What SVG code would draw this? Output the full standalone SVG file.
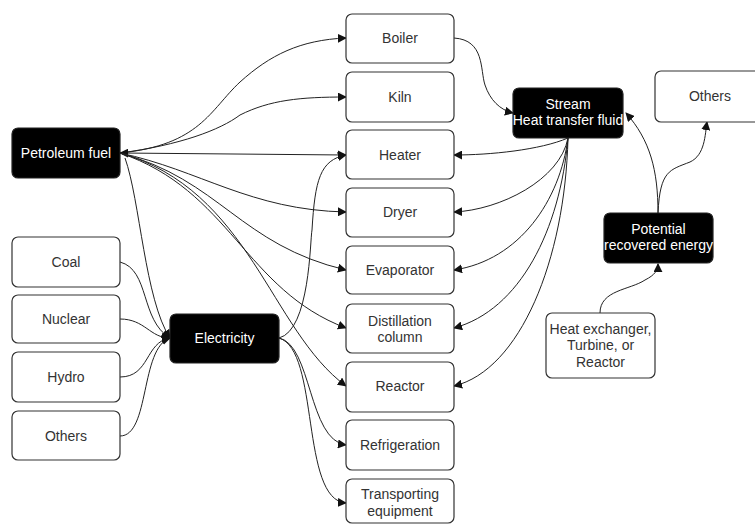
<svg xmlns="http://www.w3.org/2000/svg" width="755" height="524" viewBox="0 0 755 524">
<defs>
<marker id="ah" viewBox="0 0 10 10" refX="9" refY="5" markerWidth="9" markerHeight="9" markerUnits="userSpaceOnUse" orient="auto-start-reverse">
<path d="M0,0 L10,5 L0,10 z" fill="#111"/>
</marker>
<style>
.w rect{fill:#fff;stroke:#333;stroke-width:1.2}
.b rect{fill:#000;stroke:#222;stroke-width:1.2}
text{font-family:"Liberation Sans",Arial,sans-serif;font-size:14px;text-anchor:middle}
.w text{fill:#333}
.b text{fill:#fff}
#edges path{fill:none;stroke:#222;stroke-width:1;marker-end:url(#ah)}
</style>
</defs>
<rect width="755" height="524" fill="#fff"/>
<g id="edges">
<path d="M120,153 C200,145 210,110 240,82 C270,55 300,40 346,38"/>
<path d="M120,153 C180,145 220,130 240,115 C270,100 300,97 346,97"/>
<path d="M120,153 L346,155" style="marker-start:url(#ah)"/>
<path d="M120,153 C200,170 250,210 346,212"/>
<path d="M120,153 C220,180 240,245 346,270"/>
<path d="M120,153 C230,190 245,290 346,328"/>
<path d="M120,153 C250,190 270,330 346,386"/>
<path d="M125,158 C140,200 145,300 170,338"/>
<path d="M279,338 C310,330 310,240 312,230 C315,180 320,160 346,155"/>
<path d="M279,338 C312,345 308,440 346,445"/>
<path d="M279,338 C320,350 300,500 346,503"/>
<path d="M120,262 C150,270 140,320 170,338"/>
<path d="M120,319 C145,319 150,338 170,338"/>
<path d="M120,377 C150,377 145,342 170,338"/>
<path d="M120,436 C150,436 140,348 170,338"/>
<path d="M454,38 C485,40 480,70 485,85 C490,100 500,110 513,113"/>
<path d="M568,138 C540,150 490,155 454,155"/>
<path d="M568,138 C560,180 500,210 454,212"/>
<path d="M568,138 C560,200 520,260 454,270"/>
<path d="M568,138 C560,230 520,310 454,328"/>
<path d="M568,138 C565,260 520,370 454,386"/>
<path d="M658,213 C658,170 650,140 626,113"/>
<path d="M658,213 C660,170 670,170 690,162 C705,155 705,135 707,122"/>
<path d="M600,313 C600,290 630,290 645,280 C655,275 658,270 658,264"/>
</g>
<g id="petroleum" class="b"><rect x="12" y="128" width="108" height="50" rx="6"/><text x="66" y="158">Petroleum fuel</text></g>
<g id="electricity" class="b"><rect x="170" y="314" width="109" height="49" rx="6"/><text x="224.5" y="343">Electricity</text></g>
<g id="coal" class="w"><rect x="12" y="237" width="108" height="50" rx="6"/><text x="66" y="267">Coal</text></g>
<g id="nuclear" class="w"><rect x="12" y="295" width="108" height="48" rx="6"/><text x="66" y="324">Nuclear</text></g>
<g id="hydro" class="w"><rect x="12" y="352" width="108" height="50" rx="6"/><text x="66" y="382">Hydro</text></g>
<g id="others-left" class="w"><rect x="12" y="411" width="108" height="49" rx="6"/><text x="66" y="441">Others</text></g>
<g id="boiler" class="w"><rect x="346" y="14" width="108" height="49" rx="6"/><text x="400" y="43">Boiler</text></g>
<g id="kiln" class="w"><rect x="346" y="72" width="108" height="50" rx="6"/><text x="400" y="102">Kiln</text></g>
<g id="heater" class="w"><rect x="346" y="130" width="108" height="49" rx="6"/><text x="400" y="160">Heater</text></g>
<g id="dryer" class="w"><rect x="346" y="188" width="108" height="49" rx="6"/><text x="400" y="217">Dryer</text></g>
<g id="evaporator" class="w"><rect x="346" y="246" width="108" height="48" rx="6"/><text x="400" y="275">Evaporator</text></g>
<g id="distillation" class="w"><rect x="346" y="304" width="108" height="49" rx="6"/><text x="400" y="326">Distillation</text><text x="400" y="342">column</text></g>
<g id="reactor" class="w"><rect x="346" y="362" width="108" height="50" rx="6"/><text x="400" y="391">Reactor</text></g>
<g id="refrigeration" class="w"><rect x="346" y="420" width="108" height="50" rx="6"/><text x="400" y="450">Refrigeration</text></g>
<g id="transporting" class="w"><rect x="346" y="479" width="108" height="44" rx="6"/><text x="400" y="499">Transporting</text><text x="400" y="516">equipment</text></g>
<g id="stream" class="b"><rect x="513" y="88" width="110" height="50" rx="6"/><text x="568" y="109">Stream</text><text x="568" y="125">Heat transfer fluid</text></g>
<g id="others-right" class="w"><rect x="655" y="71" width="110" height="51" rx="6"/><text x="710" y="101">Others</text></g>
<g id="potential" class="b"><rect x="604" y="213" width="109" height="50" rx="6"/><text x="658.5" y="234">Potential</text><text x="658.5" y="250">recovered energy</text></g>
<g id="heatexchanger" class="w"><rect x="546" y="313" width="109" height="65" rx="6"/><text x="600.5" y="334">Heat exchanger,</text><text x="600.5" y="350">Turbine, or</text><text x="600.5" y="367">Reactor</text></g>
</svg>
